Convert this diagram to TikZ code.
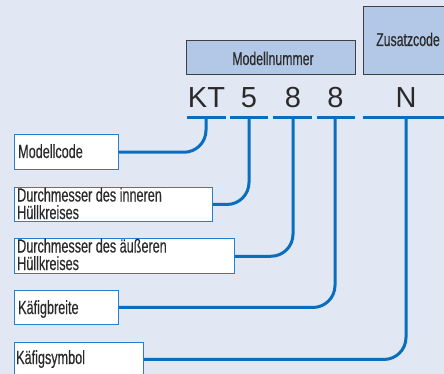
\documentclass[tikz,border=0pt]{standalone}
\usepackage{fontspec}
\setmainfont{Liberation Sans}
\newfontfamily\condfont[FakeStretch=0.665,FakeBold=0.3]{Liberation Sans}
\usetikzlibrary{calc}
\definecolor{bg}{HTML}{E1E7F3}
\definecolor{hdr}{HTML}{B3C7E7}
\definecolor{lnblue}{HTML}{0A6EBE}
\definecolor{boxblue}{HTML}{2A7FCC}
\definecolor{txt}{HTML}{2A2A2A}
\tikzset{
  conn/.style={draw=lnblue, line width=3pt, rounded corners=22pt},
  tbar/.style={draw=lnblue, line width=3pt},
  infobox/.style={draw=boxblue, line width=0.9pt, fill=white, anchor=north west, inner sep=0pt},
  hdrbox/.style={draw=black!75, line width=0.9pt, fill=hdr, anchor=north west, inner sep=0pt},
  lbl/.style={font=\condfont\fontsize{19}{17.5}\selectfont, text=txt, anchor=base west, inner sep=0pt, align=left},
  hlbl/.style={font=\condfont\fontsize{18.5}{18}\selectfont, text=txt, anchor=base, inner sep=0pt},
  big/.style={font=\fontsize{29}{29}\selectfont, text=txt, anchor=base, inner sep=0pt},
}
\begin{document}
\begin{tikzpicture}[x=1pt,y=-1pt]
\useasboundingbox (0,0) rectangle (444,374);
\clip (0,0) rectangle (444,374);
\fill[bg] (0,0) rectangle (444,374);

% header boxes
\node[hdrbox, minimum width=169pt, minimum height=34pt] (mn) at (186,40) {};
\node[hlbl] (mnt) at (273,65) {Modellnummer};
\node[hdrbox, minimum width=100pt, minimum height=68pt] (zc) at (363,6) {};
\node[hlbl, anchor=base west] (zct) at (376,46) {Zusatzcode};

% code characters
\node[big] (kt) at (206.5,108) {KT};
\node[big] (d5) at (249,108) {5};
\node[big] (d8a) at (293,108) {8};
\node[big] (d8b) at (335.5,108) {8};
\node[big] (n) at (406,108) {N};

% T-bar tops
\coordinate (tK) at (206,117.5);
\coordinate (t5) at (249,117.5);
\coordinate (t8a) at (293,117.5);
\coordinate (t8b) at (335,117.5);
\coordinate (tN) at (406,117.5);
\draw[tbar] ($(tK)+(-19,0)$) -- ($(tK)+(20,0)$);
\draw[tbar] ($(t5)+(-19,0)$) -- ($(t5)+(19,0)$);
\draw[tbar] ($(t8a)+(-20,0)$) -- ($(t8a)+(19,0)$);
\draw[tbar] ($(t8b)+(-18,0)$) -- ($(t8b)+(20,0)$);
\draw[tbar] ($(tN)+(-43,0)$) -- ($(tN)+(50,0)$);

% info boxes
\node[infobox, minimum width=104pt, minimum height=35pt] (b1) at (14,134.3) {};
\node[lbl] (l1) at (18,158) {Modellcode};
\node[infobox, minimum width=198pt, minimum height=34pt] (b2) at (14,187) {};
\node[lbl] (l2) at (17,219) {Durchmesser des inneren\\Hüllkreises};
\node[infobox, minimum width=220pt, minimum height=35pt] (b3) at (14,238.3) {};
\node[lbl] (l3) at (17,270) {Durchmesser des äußeren\\Hüllkreises};
\node[infobox, minimum width=104pt, minimum height=34pt] (b4) at (14,290) {};
\node[lbl] (l4) at (18,314) {Käfigbreite};
\node[infobox, minimum width=129pt, minimum height=34pt] (b5) at (14,342) {};
\node[lbl] (l5) at (16,364) {Käfigsymbol};

% connectors
\draw[conn] (tK) |- (b1.east);
\draw[conn] (t5) |- (b2.east);
\draw[conn] (t8a) |- (b3.east);
\draw[conn] (t8b) |- (b4.east);
\draw[conn] (tN) |- (b5.east);
\end{tikzpicture}
\end{document}
